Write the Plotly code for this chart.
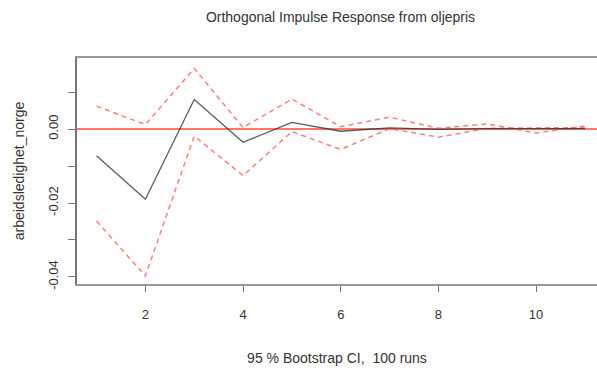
import plotly.graph_objects as go

# Impulse response horizon
horizon = list(range(1, 12))

# Orthogonal impulse response of arbeidsledighet_norge to a shock in oljepris
irf = [-0.0072, -0.0190, 0.0080, -0.0036, 0.0018, -0.0006, 0.0003, -0.0001, 0.0001, 0.0000, 0.0001]
# 95 % bootstrap confidence band
ci_upper = [0.0062, 0.0012, 0.0164, 0.0004, 0.0081, 0.0006, 0.0032, 0.0002, 0.0014, -0.0011, 0.0008]
ci_lower = [-0.0249, -0.0397, -0.0019, -0.0126, -0.0007, -0.0055, 0.0001, -0.0022, 0.0002, 0.0002, 0.0004]

y_tickvals = [-0.04, -0.03, -0.02, -0.01, 0.00, 0.01]
y_ticktext = ["-0.04", "", "-0.02", "", "0.00", ""]
x_tickvals = [2, 4, 6, 8, 10]

FONT = "Liberation Sans, Arial, Helvetica, sans-serif"
BAND = "rgba(255,95,95,0.8)"
TXT = "#333333"

fig = go.Figure()

fig.add_trace(go.Scatter(x=horizon, y=ci_upper, mode="lines",
                         line=dict(color=BAND, width=1.5, dash="5px,4px"),
                         hoverinfo="skip", showlegend=False))
fig.add_trace(go.Scatter(x=horizon, y=ci_lower, mode="lines",
                         line=dict(color=BAND, width=1.5, dash="5px,4px"),
                         hoverinfo="skip", showlegend=False))

# zero reference line
fig.add_shape(type="line", xref="paper", x0=0, x1=1, yref="y", y0=0, y1=0,
              line=dict(color="rgb(255,120,105)", width=2), layer="below")

fig.add_trace(go.Scatter(x=horizon, y=irf, mode="lines",
                         line=dict(color="rgba(50,50,50,0.8)", width=1.3),
                         showlegend=False))

fig.update_layout(
    width=597, height=369,
    margin=dict(l=77, r=0, t=58, b=85),
    paper_bgcolor="white", plot_bgcolor="white",
    font=dict(family=FONT, size=13, color=TXT),
    title=dict(text="Orthogonal Impulse Response from oljepris",
               x=(77 + 604) / 2 / 597, xanchor="center", y=1 - 17 / 369, yanchor="middle",
               font=dict(size=14, color=TXT)),
    xaxis=dict(
        range=[0.6, 11.247], tickmode="array", tickvals=x_tickvals,
        ticks="outside", ticklen=6, tickwidth=1.2, tickcolor="#777777",
        showline=True, linecolor="#999999", linewidth=2, mirror=True,
        showgrid=False, zeroline=False,
        tickfont=dict(size=13, color=TXT), ticklabelstandoff=11,
        title=dict(text="95 % Bootstrap CI,  100 runs", standoff=33,
                   font=dict(size=14, color=TXT)),
    ),
    yaxis=dict(
        range=[-0.0419, 0.0192], tickmode="array", tickvals=y_tickvals, ticktext=y_ticktext,
        ticks="outside", ticklen=7, tickwidth=1.2, tickcolor="#777777",
        showline=True, linecolor="#777777", linewidth=2,
        showgrid=False, zeroline=False, tickangle=-90,
        tickfont=dict(size=13, color=TXT), ticklabelstandoff=5,
        title=dict(text="arbeidsledighet_norge", standoff=18,
                   font=dict(size=14, color=TXT)),
    ),
)

fig.write_html("out.html")
